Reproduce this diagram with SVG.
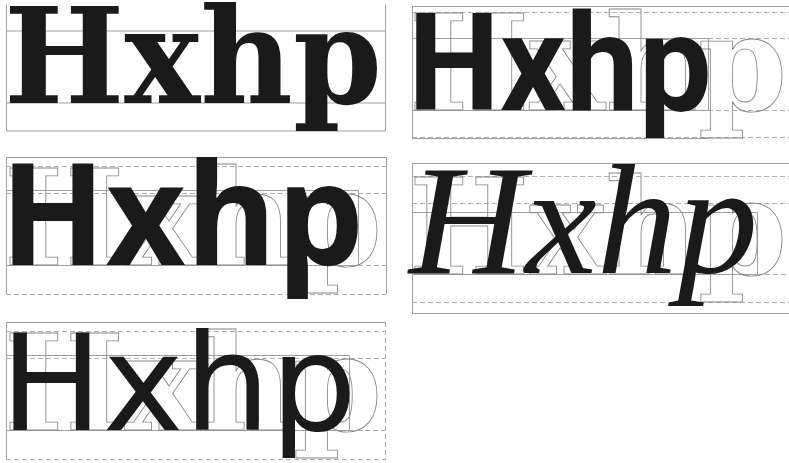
<svg xmlns="http://www.w3.org/2000/svg" xmlns:xlink="http://www.w3.org/1999/xlink" width="789" height="463" viewBox="0 0 789 463">
<style>
.s{stroke:#a0a0a0;stroke-width:1;fill:none}
.d{stroke:#b0b0b0;stroke-width:1;fill:none;stroke-dasharray:5 3}
.ghost{fill:none;stroke:#8a8a8a;stroke-width:0.9}
.fg{fill:#1a1a1a}
</style>
<defs>
<text id="slab" x="4" y="103" font-family="DejaVu Serif" font-weight="700" font-size="133" textLength="378" lengthAdjust="spacingAndGlyphs">Hxhp</text>
</defs>
<rect width="789" height="463" fill="#fff"/>

<g id="panel1">
<g id="panel1-lines">
<path class="s" d="M6.5 5V131M385.5 5V131M6.5 31H385.5M6.5 103H385.5M6.5 131H385.5"/>
</g>
<use xlink:href="#slab" class="fg"/>
</g>

<g id="panel2">
<g id="panel2-lines">
<path class="s" d="M412 6.5H789M412.5 6.5V138M412 38.5H708.5V110.5H412M412 138.5H708"/>
<path class="d" d="M412 12.5H789M708 38.5H789M708 110.5H789M412 137.5H789"/>
</g>
<use xlink:href="#slab" class="ghost" transform="translate(405 7)"/>
<text class="fg" x="408" y="110" font-family="Roboto" font-weight="700" font-size="136" textLength="304" lengthAdjust="spacingAndGlyphs">Hxhp</text>
</g>

<g id="panel3">
<g id="panel3-lines">
<path class="s" d="M6 157.5H386.5V294M6.5 157V294M6 190.5H358.5V265.5H6"/>
<path class="d" d="M6 166.5H386M6 193.5H386M358 265.5H386M6 294.5H386"/>
</g>
<use xlink:href="#slab" class="ghost" transform="translate(0 162)"/>
<text class="fg" x="0" y="265" font-family="Open Sans" font-weight="700" font-size="141" textLength="364" lengthAdjust="spacingAndGlyphs">Hxhp</text>
</g>

<g id="panel4">
<g id="panel4-lines">
<path class="s" d="M412 163.5H789M412.5 163V313M412 212.5H757.5V274.5H412M412 313.5H789"/>
<path class="d" d="M412 176.5H789M412 203.5H789M757 274.5H789M412 302.5H789"/>
</g>
<use xlink:href="#slab" class="ghost" transform="translate(405 171)"/>
<text class="fg" x="409" y="273" font-family="Liberation Serif" font-style="italic" font-size="156" textLength="349" lengthAdjust="spacingAndGlyphs">Hxhp</text>
</g>

<g id="panel5">
<g id="panel5-lines">
<path class="s" d="M6 322.5H386M6.5 322V460M6 355.5H349.5V430.5H6"/>
<path class="d" d="M6 331.5H386M6 358.5H386M349 430.5H386M6 459.5H386M385.5 322V460"/>
</g>
<use xlink:href="#slab" class="ghost" transform="translate(0 327)"/>
<text class="fg" x="0" y="430" font-family="DejaVu Sans" font-size="133" textLength="357" lengthAdjust="spacingAndGlyphs">Hxhp</text>
</g>
</svg>
